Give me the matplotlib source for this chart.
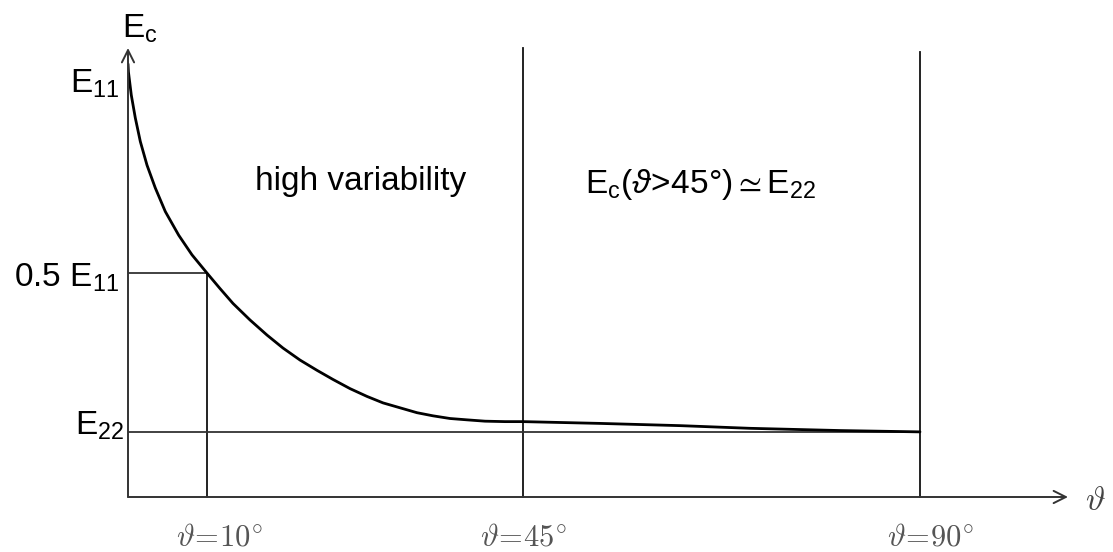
import numpy as np
import matplotlib
matplotlib.use("Agg")
import matplotlib.pyplot as plt

plt.rcParams['font.family'] = ['Liberation Sans', 'DejaVu Sans']
plt.rcParams['mathtext.fontset'] = 'custom'
plt.rcParams['mathtext.rm'] = 'Liberation Sans'
plt.rcParams['mathtext.it'] = 'Liberation Sans:italic'
plt.rcParams['mathtext.fallback'] = 'cm'

# curve: theta in degrees, Ec normalised to E11
theta = [0, 0.05, 0.375, 0.83, 1.40, 2.16, 3.10, 4.24, 5.76, 7.27, 8.98,
         10.45, 11.93, 13.86, 15.80, 17.61, 19.55, 21.48, 23.30, 25.23, 27.16,
         28.98, 30.91, 32.84, 34.66, 36.59, 38.52, 40.57, 42.84, 44.89,
         53.64, 62.73, 70.68, 80.91, 90]
ec = [0.971, 0.953, 0.901, 0.850, 0.797, 0.744, 0.693, 0.640, 0.587, 0.543, 0.502,
      0.4675, 0.434, 0.397, 0.363, 0.334, 0.307, 0.284, 0.2635, 0.243, 0.2255,
      0.211, 0.200, 0.189, 0.182, 0.176, 0.173, 0.170, 0.169, 0.169,
      0.165, 0.160, 0.154, 0.149, 0.146]

# reference lines
theta_marks = [8.98, 44.89, 90]
theta_tops = [0.502, 1.007, 0.998]
theta_labels = ['10', '45', '90']
label_x = [10.45, 44.9, 91.25]
half_e11 = 0.502
e22 = 0.146

fig = plt.figure(figsize=(11.13, 5.52), dpi=100)
ax = fig.add_axes([128 / 1113, 55 / 552, 940 / 1113, 449 / 552])
ax.set_xlim(0, 106.82)
ax.set_ylim(0, 1.0067)
for s in ax.spines.values():
    s.set_visible(False)
ax.set_xticks([])
ax.set_yticks([])

axc = '#333333'
# axes with open arrow heads
ax.annotate('', xy=(106.82, 0), xytext=(0, 0),
            arrowprops=dict(arrowstyle='->', color=axc, lw=1.4, mutation_scale=22,
                            shrinkA=0, shrinkB=0), annotation_clip=False)
ax.annotate('', xy=(0, 1.0067), xytext=(0, 0),
            arrowprops=dict(arrowstyle='->', color=axc, lw=1.4, mutation_scale=22,
                            shrinkA=0, shrinkB=0), annotation_clip=False)

# vertical lines
for x, top in zip(theta_marks, theta_tops):
    ax.plot([x, x], [0, top], color='#111111', lw=1.3, clip_on=False)
# horizontal guide lines
ax.plot([0, theta_marks[0]], [half_e11, half_e11], color=axc, lw=1.3)
ax.plot([0, theta_marks[-1]], [e22, e22], color=axc, lw=1.3)

ax.plot(theta, ec, color='black', lw=2.0, solid_capstyle='round',
        solid_joinstyle='round')

# y labels
fs = 24
ax.text(-0.68, 1.031, r'$\mathregular{E_c}$', fontsize=fs, ha='left', va='baseline',
        clip_on=False)
ax.text(-1.02, 0.906, r'$\mathregular{E_{11}}$', fontsize=fs, ha='right', va='baseline',
        clip_on=False)
ax.text(-1.02, 0.471, r'$\mathregular{0.5\ E_{11}}$', fontsize=fs, ha='right',
        va='baseline', clip_on=False)
ax.text(-0.45, 0.139, r'$\mathregular{E_{22}}$', fontsize=fs, ha='right', va='baseline',
        clip_on=False)

# x labels
for x, lab in zip(label_x, theta_labels):
    ax.text(x, -0.108, r'$\vartheta\!=\!' + lab + r'^{\circ}$', fontsize=22,
            math_fontfamily='cm', color='#555555', ha='center', va='baseline',
            clip_on=False)
ax.text(108.75, -0.029, r'$\vartheta$', fontsize=24, math_fontfamily='cm',
        color='#444444', ha='left', va='baseline', clip_on=False)

ax.text(14.43, 0.688, 'high variability', fontsize=fs, ha='left', va='baseline')
ax.text(51.93, 0.682,
        r'$\mathregular{E_c(}\vartheta\!\mathregular{>}\!\mathregular{45°)\simeq E_{22}}$',
        fontsize=fs, ha='left', va='baseline')

fig.savefig('out.png', dpi=100)
